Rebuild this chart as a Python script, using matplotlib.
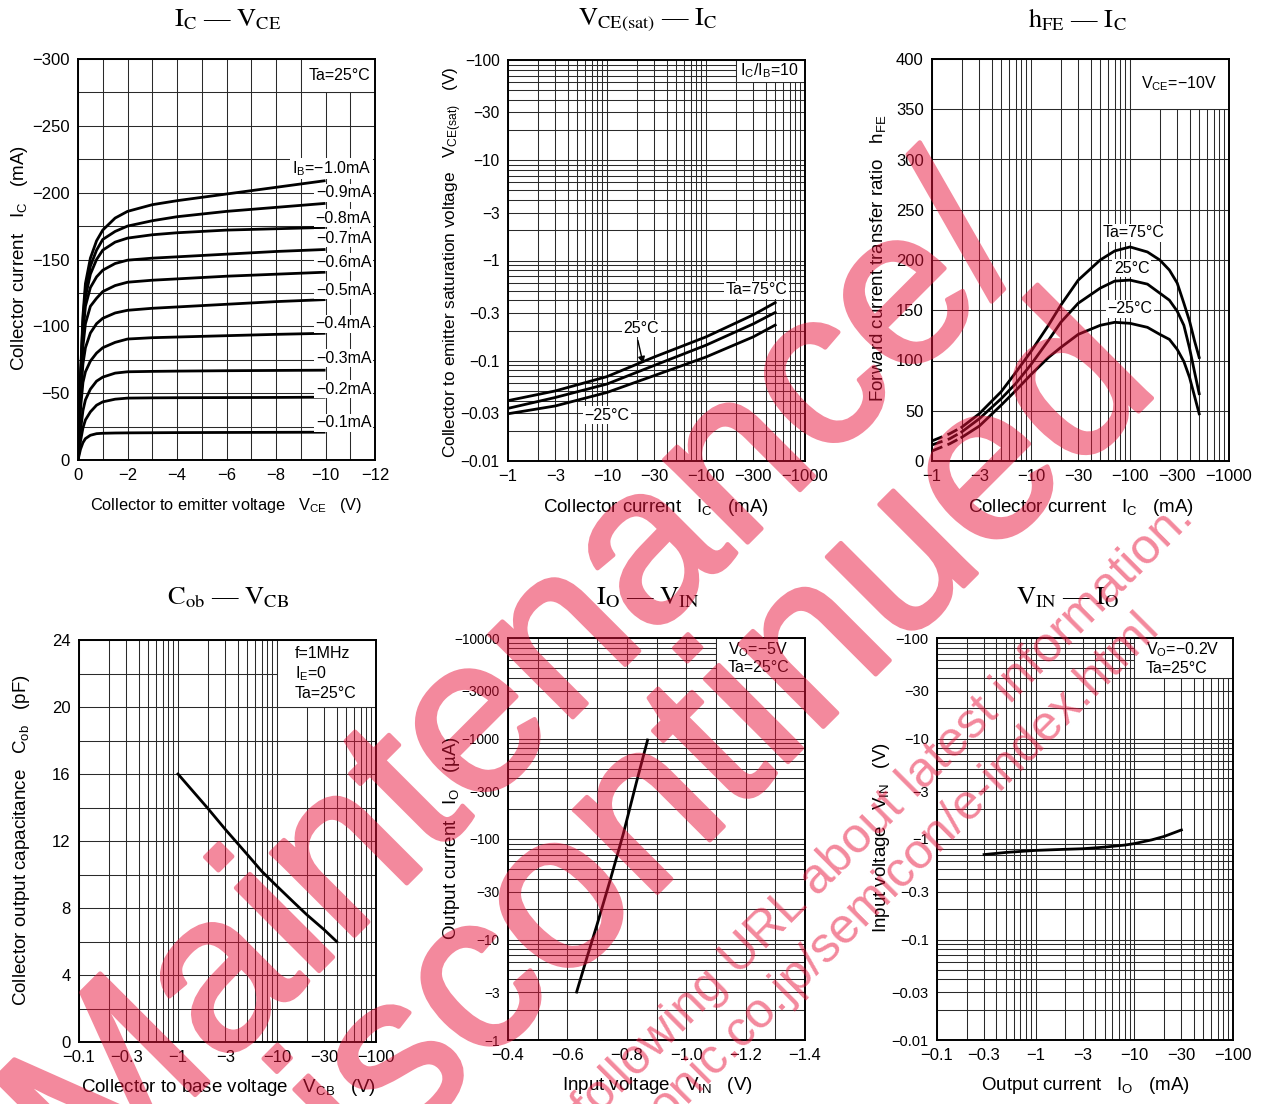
import matplotlib
matplotlib.use('Agg')
import matplotlib.pyplot as plt
import matplotlib.patheffects as pe
from matplotlib.ticker import FixedLocator, NullFormatter
from matplotlib.patches import Rectangle

W, H = 1262, 1104
plt.rcParams['font.family'] = ['Liberation Sans', 'DejaVu Sans']
plt.rcParams['mathtext.fontset'] = 'custom'
plt.rcParams['mathtext.rm'] = 'Liberation Sans'
plt.rcParams['mathtext.it'] = 'Liberation Sans:italic'
plt.rcParams['mathtext.bf'] = 'Liberation Sans:bold'

# ---- Ic - Vce (magnitudes, V and mA)
vce = [0, 0.1, 0.2, 0.3, 0.5, 0.75, 1, 1.5, 2, 3, 4, 6, 8, 10]
ic_curves = [
    [0, 8, 13, 16, 18.5, 19.7, 20, 20.2, 20.3, 20.4, 20.5, 20.6, 20.7, 20.8],
    [0, 14, 24, 30, 36, 41, 43.5, 45.5, 46.3, 46.5, 46.6, 46.7, 46.8, 47],
    [0, 22, 37, 45, 53, 59, 62, 65, 66, 66.3, 66.5, 66.8, 67, 67.2],
    [0, 38, 58, 66, 74, 80, 84, 88, 90.5, 91.5, 92, 93, 94, 94.8],
    [0, 45, 72, 84, 95, 102, 106, 110, 112, 113.5, 114.5, 116.5, 118.5, 120],
    [0, 52, 85, 102, 115, 121, 126, 130.5, 133, 134.5, 135.5, 137.5, 139, 140.5],
    [0, 56, 95, 115, 129, 137, 142, 147, 149.5, 151, 152, 154, 156, 157.5],
    [0, 58, 100, 122, 139, 150, 157, 163, 166, 168.5, 170, 172, 173, 174],
    [0, 60, 104, 127, 145, 157, 165, 171, 175, 179, 182, 186, 189, 192],
    [0, 62, 108, 132, 151, 164, 172, 181, 186, 191, 194, 199, 204, 209],
]
ib_labels = ['−0.1mA', '−0.2mA', '−0.3mA', '−0.4mA', '−0.5mA', '−0.6mA',
             '−0.7mA', '−0.8mA', '−0.9mA', r'$\mathrm{I_B}$=−1.0mA']
ib_label_y = [28, 53, 76, 102, 127, 148, 166, 181, 200, 218]

# ---- Vce(sat) - Ic
ic_sat = [1, 3, 10, 30, 100, 300, 500]
vsat_75 = [0.040, 0.050, 0.0695, 0.109, 0.173, 0.287, 0.38]
vsat_25 = [0.0335, 0.043, 0.0586, 0.0898, 0.143, 0.233, 0.303]
vsat_m25 = [0.0296, 0.0354, 0.0483, 0.0711, 0.109, 0.173, 0.227]

# ---- hFE - Ic
ic_hfe = [1, 1.5, 2, 3, 5, 7, 10, 15, 20, 30, 50, 70, 100, 150, 200, 250, 300, 350, 400, 450, 500]
hfe_75 = [20, 27, 33.7, 47, 69, 88, 109, 135, 155, 180, 200, 209, 213, 208, 200, 190, 177, 157, 139, 119, 103]
hfe_25 = [16, 22, 29, 42, 62, 77, 96, 120, 138, 157, 172, 179, 180, 176, 167, 160, 149, 135, 112, 88, 67]
hfe_m25 = [10, 17, 23.6, 34.7, 55.6, 70, 86, 103, 113, 126, 135, 138, 137, 133, 126, 121, 111, 99, 83, 64, 47]

# ---- Cob - Vcb
vcb = [1, 1.5, 2, 3, 5, 7, 10, 15, 20, 30, 40]
cob = [16, 14.8, 13.95, 12.7, 11.2, 10.2, 9.3, 8.3, 7.6, 6.7, 6.0]

# ---- Io - Vin
vin_io = [0.631, 0.665, 0.699, 0.743, 0.788, 0.833, 0.870]
io_ua = [3.0, 6.5, 13.8, 38, 112, 372, 966]

# ---- Vin - Io
io_ma = [0.3, 0.5, 1, 2, 3, 5, 8, 10, 15, 20, 30]
vin_v = [0.70, 0.735, 0.77, 0.79, 0.80, 0.83, 0.87, 0.90, 0.98, 1.06, 1.23]

log_ticks_3 = [1, 3, 10, 30, 100, 300, 1000]
log_labels_3 = ['−1', '−3', '−10', '−30', '−100', '−300', '−1000']

fig = plt.figure(figsize=(W / 100, H / 100), dpi=100)


def px_axes(l, t, r, b):
    return fig.add_axes([l / W, 1 - b / H, (r - l) / W, (b - t) / H])


def ftext(x, y, s, **kw):
    return fig.text(x / W, 1 - y / H, s, **kw)


def log_minor(e0, e1):
    return [m * 10.0 ** e for e in range(e0, e1) for m in range(2, 10)]


def style(ax, xs=12, ys=12):
    ax.set_axisbelow(True)
    ax.grid(which='both', color='#2a2a2a', lw=0.75)
    ax.tick_params(which='both', length=0, pad=6)
    ax.tick_params(axis='x', labelsize=xs)
    ax.tick_params(axis='y', labelsize=ys)
    for sp in ax.spines.values():
        sp.set_linewidth(1.4)


def set_axis(axis, major, labels, minor):
    axis.set_major_locator(FixedLocator(major))
    axis.set_ticklabels(labels)
    axis.set_minor_locator(FixedLocator(minor))
    axis.set_minor_formatter(NullFormatter())


def white_box(ax, x0, y0, x1, y1):
    ax.add_patch(Rectangle((x0, y0), x1 - x0, y1 - y0, facecolor='white',
                           edgecolor='#2a2a2a', lw=0.75, zorder=1))


wbox = dict(facecolor='white', edgecolor='none', pad=1.0)
title_kw = dict(fontsize=19, family=['Liberation Serif', 'DejaVu Serif'],
                math_fontfamily='stix', ha='center', va='center')
lab_kw = dict(fontsize=13.5, ha='center', va='center')
CLW = 2.0

# ================= panel 1
ax = px_axes(78, 59, 375, 460)
ax.set_xlim(0, 12)
ax.set_ylim(0, 300)
set_axis(ax.xaxis, range(0, 13, 2), ['0'] + ['−%d' % v for v in range(2, 13, 2)], range(1, 12, 2))
set_axis(ax.yaxis, range(0, 301, 50), ['0'] + ['−%d' % v for v in range(50, 301, 50)], range(25, 300, 50))
style(ax)
white_box(ax, 9, 275, 12, 300)
ax.text(11.8, 287.5, 'Ta=25°C', ha='right', va='center', fontsize=11.5, zorder=3)
for ic in ic_curves:
    ax.plot(vce, ic, color='black', lw=CLW, zorder=2, solid_capstyle='butt')
for s, y in zip(ib_labels, ib_label_y):
    ax.text(11.85, y, s, ha='right', va='center', fontsize=11.5, bbox=wbox, zorder=3)
ftext(228, 20, r'$\mathrm{I_C}$ — $\mathrm{V_{CE}}$', **title_kw)
ftext(20, 258, r'Collector current   $\mathrm{I_C}$   (mA)', rotation=90, **lab_kw)
ftext(226, 506, r'Collector to emitter voltage   $\mathrm{V_{CE}}$   (V)',
      fontsize=11.8, ha='center', va='center')

# ================= panel 2
ax = px_axes(508, 60, 805, 461)
ax.set_xscale('log')
ax.set_yscale('log')
ax.set_xlim(1, 1000)
ax.set_ylim(0.01, 100)
set_axis(ax.xaxis, log_ticks_3, log_labels_3, log_minor(0, 3))
set_axis(ax.yaxis, [0.01, 0.03, 0.1, 0.3, 1, 3, 10, 30, 100],
         ['−0.01', '−0.03', '−0.1', '−0.3', '−1', '−3', '−10', '−30', '−100'], log_minor(-2, 2))
style(ax, 12, 11.2)
white_box(ax, 200, 60, 1000, 100)
ax.text(433, 78, r'$\mathrm{I_C/I_B}$=10', ha='center', va='center', fontsize=11.5, zorder=3)
for v in (vsat_75, vsat_25, vsat_m25):
    ax.plot(ic_sat, v, color='black', lw=CLW, zorder=2)
ax.text(325, 0.51, 'Ta=75°C', ha='center', va='center', fontsize=11.5, bbox=wbox, zorder=3)
ax.text(22.3, 0.21, '25°C', ha='center', va='center', fontsize=11.5, bbox=wbox, zorder=3)
ax.text(9.9, 0.0287, '−25°C', ha='center', va='center', fontsize=11.5, bbox=wbox, zorder=3)
ax.annotate('', xy=(23.5, 0.088), xytext=(20.2, 0.17),
            arrowprops=dict(arrowstyle='-|>', color='black', lw=1.0, mutation_scale=10), zorder=3)
ftext(648, 20, r'$\mathrm{V_{CE(sat)}}$ — $\mathrm{I_C}$', **title_kw)
ftext(453, 262, r'Collector to emitter saturation voltage   $\mathrm{V_{CE(sat)}}$   (V)',
      rotation=90, fontsize=12.4, ha='center', va='center')
ftext(656, 508, r'Collector current   $\mathrm{I_C}$   (mA)', **lab_kw)

# ================= panel 3
ax = px_axes(932, 59, 1229, 461)
ax.set_xscale('log')
ax.set_xlim(1, 1000)
ax.set_ylim(0, 400)
set_axis(ax.xaxis, log_ticks_3, log_labels_3, log_minor(0, 3))
set_axis(ax.yaxis, range(0, 401, 50), [str(v) for v in range(0, 401, 50)], [])
style(ax)
white_box(ax, 100, 350, 1000, 400)
ax.text(311, 375, r'$\mathrm{V_{CE}}$=−10V', ha='center', va='center', fontsize=11.5, zorder=3)
for h in (hfe_75, hfe_25, hfe_m25):
    ax.plot(ic_hfe[:3], h[:3], color='black', lw=CLW, ls=(0, (4, 2)), zorder=2)
    ax.plot(ic_hfe[2:], h[2:], color='black', lw=CLW, zorder=2)
ax.text(108, 227, 'Ta=75°C', ha='center', va='center', fontsize=11.5, bbox=wbox, zorder=3)
ax.text(104, 192, '25°C', ha='center', va='center', fontsize=11.5, bbox=wbox, zorder=3)
ax.text(100, 151.5, '−25°C', ha='center', va='center', fontsize=11.5, bbox=wbox, zorder=3)
ftext(1077, 20, r'$\mathrm{h_{FE}}$ — $\mathrm{I_C}$', **title_kw)
ftext(878, 258, r'Forward current transfer ratio   $\mathrm{h_{FE}}$', rotation=90, **lab_kw)
ftext(1081, 508, r'Collector current   $\mathrm{I_C}$   (mA)', **lab_kw)

# ================= panel 4
ax = px_axes(79, 640, 376, 1042)
ax.set_xscale('log')
ax.set_xlim(0.1, 100)
ax.set_ylim(0, 24)
set_axis(ax.xaxis, [0.1, 0.3, 1, 3, 10, 30, 100],
         ['−0.1', '−0.3', '−1', '−3', '−10', '−30', '−100'], log_minor(-1, 2))
set_axis(ax.yaxis, range(0, 25, 4), [str(v) for v in range(0, 25, 4)], range(2, 24, 4))
style(ax)
white_box(ax, 10, 20, 100, 24)
for s, y in zip(['f=1MHz', r'$\mathrm{I_E}$=0', 'Ta=25°C'], [23.2, 22.0, 20.8]):
    ax.text(15.2, y, s, ha='left', va='center', fontsize=11.5, zorder=3)
ax.plot(vcb, cob, color='black', lw=CLW, zorder=2)
ftext(228, 598, r'$\mathrm{C_{ob}}$ — $\mathrm{V_{CB}}$', **title_kw)
ftext(22, 840, r'Collector output capacitance   $\mathrm{C_{ob}}$   (pF)', rotation=90, **lab_kw)
ftext(228, 1088, r'Collector to base voltage   $\mathrm{V_{CB}}$   (V)', **lab_kw)

# ================= panel 5
ax = px_axes(508, 638, 805, 1040)
ax.set_yscale('log')
ax.set_xlim(0.4, 1.4)
ax.set_ylim(1, 10000)
set_axis(ax.xaxis, [0.4, 0.6, 0.8, 1.0, 1.2, 1.4],
         ['−0.4', '−0.6', '−0.8', '−1.0', '−1.2', '−1.4'], [0.5, 0.7, 0.9, 1.1, 1.3])
set_axis(ax.yaxis, [1, 3, 10, 30, 100, 300, 1000, 3000, 10000],
         ['−1', '−3', '−10', '−30', '−100', '−300', '−1000', '−3000', '−10000'], log_minor(0, 4))
style(ax, 12, 9.8)
white_box(ax, 1.1, 4000, 1.4, 10000)
ax.text(1.141, 7600, r'$\mathrm{V_O}$=−5V', ha='left', va='center', fontsize=11.5, zorder=3)
ax.text(1.141, 5030, 'Ta=25°C', ha='left', va='center', fontsize=11.5, zorder=3)
ax.plot(vin_io, io_ua, color='black', lw=CLW, zorder=2)
ftext(648, 598, r'$\mathrm{I_O}$ — $\mathrm{V_{IN}}$', **title_kw)
ftext(452, 838, r'Output current   $\mathrm{I_O}$   (µA)', rotation=90, **lab_kw)
ftext(657, 1086, r'Input voltage   $\mathrm{V_{IN}}$   (V)', **lab_kw)

# ================= panel 6
ax = px_axes(937, 638, 1233, 1040)
ax.set_xscale('log')
ax.set_yscale('log')
ax.set_xlim(0.1, 100)
ax.set_ylim(0.01, 100)
set_axis(ax.xaxis, [0.1, 0.3, 1, 3, 10, 30, 100],
         ['−0.1', '−0.3', '−1', '−3', '−10', '−30', '−100'], log_minor(-1, 2))
set_axis(ax.yaxis, [0.01, 0.03, 0.1, 0.3, 1, 3, 10, 30, 100],
         ['−0.01', '−0.03', '−0.1', '−0.3', '−1', '−3', '−10', '−30', '−100'], log_minor(-2, 2))
style(ax, 12, 10.5)
white_box(ax, 10, 40, 100, 100)
ax.text(13.1, 76, r'$\mathrm{V_O}$=−0.2V', ha='left', va='center', fontsize=11.5, zorder=3)
ax.text(13.1, 50, 'Ta=25°C', ha='left', va='center', fontsize=11.5, zorder=3)
ax.plot(io_ma, vin_v, color='black', lw=CLW, zorder=2)
ftext(1068, 598, r'$\mathrm{V_{IN}}$ — $\mathrm{I_O}$', **title_kw)
ftext(881, 838, r'Input voltage   $\mathrm{V_{IN}}$   (V)', rotation=90, **lab_kw)
ftext(1085, 1086, r'Output current   $\mathrm{I_O}$   (mA)', **lab_kw)

# ================= watermark
pink = '#E8123A'


def half_alpha(im, dpi):
    # drawn opaque (fill + outline), then made see-through in one go
    im = im.copy()
    im[..., 3] *= 0.5
    return im, 0, 0


wm = dict(rotation=45, rotation_mode='anchor', ha='right', va='baseline', color=pink, zorder=10)
for s, x, y in [('Maintenance/', 1034, 256), ('Discontinued', 1162, 388)]:
    t = ftext(x, y, s, fontsize=160, **wm)
    t.set_path_effects([pe.withStroke(linewidth=3.2, foreground=pink)])
    t.set_agg_filter(half_alpha)
ftext(1195, 520, 'Please visit following URL about latest information.', fontsize=36, alpha=0.5, **wm)
ftext(1160, 629, 'http://panasonic.co.jp/semicon/e-index.html', fontsize=36, alpha=0.5, **wm)

fig.savefig('out.png', dpi=100)
